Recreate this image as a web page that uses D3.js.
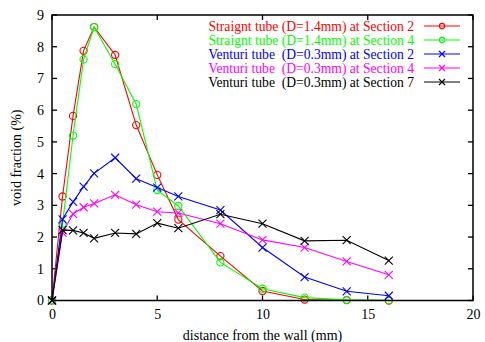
<!DOCTYPE html>
<html>
<head>
<meta charset="utf-8">
<script src="https://cdn.jsdelivr.net/npm/d3@7"></script>
<style>
  body { margin: 0; background: #fff; }
  text { font-family: "Liberation Serif", "Times New Roman", serif; }
</style>
</head>
<body>
<svg id="chart"></svg>
<script>
// distance from the wall (mm)
const distance = [0, 0.5, 1, 1.5, 2, 3, 4, 5, 6, 8, 10, 12, 14, 16];

const straight14Sec2 = [0, 3.28, 5.82, 7.87, 8.62, 7.74, 5.53, 3.96, 2.55, 1.4, 0.3, 0.03, 0.01, 0.0];
const straight14Sec4 = [0, 2.42, 5.2, 7.6, 8.62, 7.45, 6.19, 3.48, 2.98, 1.2, 0.37, 0.09, 0.02, 0.01];
const venturi03Sec2 = [0, 2.56, 3.11, 3.59, 4.01, 4.5, 3.84, 3.56, 3.28, 2.85, 1.67, 0.74, 0.29, 0.15];
const venturi03Sec4 = [0, 2.14, 2.73, 2.94, 3.06, 3.33, 3.02, 2.8, 2.76, 2.42, 1.91, 1.67, 1.23, 0.81];
const venturi03Sec7 = [0, 2.22, 2.21, 2.13, 1.96, 2.13, 2.1, 2.44, 2.28, 2.72, 2.42, 1.88, 1.9, 1.26];

const seriesNames = [
  "Straignt tube (D=1.4mm) at Section 2",
  "Straignt tube (D=1.4mm) at Section 4",
  "Venturi tube  (D=0.3mm) at Section 2",
  "Venturi tube  (D=0.3mm) at Section 4",
  "Venturi tube  (D=0.3mm) at Section 7"
];
const seriesColors = ["#ff0000", "#00ff00", "#0000ff", "#ff00ff", "#000000"];
const seriesMarkers = ["circle", "circle", "cross", "cross", "cross"];
const seriesValues = [straight14Sec2, straight14Sec4, venturi03Sec2, venturi03Sec4, venturi03Sec7];

const xTicks = [0, 5, 10, 15, 20];
const yTicks = [0, 1, 2, 3, 4, 5, 6, 7, 8, 9];

const width = 485, height = 342;
const margin = { top: 15, right: 12, bottom: 41.5, left: 52 };
const innerW = width - margin.left - margin.right;
const innerH = height - margin.top - margin.bottom;

const svg = d3.select("#chart").attr("width", width).attr("height", height);
const g = svg.append("g").attr("transform", `translate(${margin.left},${margin.top})`);

const x = d3.scaleLinear().domain([0, 20]).range([0, innerW]);
const y = d3.scaleLinear().domain([0, 9]).range([innerH, 0]);

// ticks (inward, mirrored on all four sides)
const tickLen = 5;
g.append("g").call(d3.axisBottom(x).tickValues(xTicks).tickSize(0).tickPadding(9))
  .attr("transform", `translate(0,${innerH})`)
  .call(a => a.select(".domain").remove())
  .selectAll("text").attr("font-size", 14).attr("fill", "#000");
g.append("g").call(d3.axisLeft(y).tickValues(yTicks).tickSize(0).tickPadding(8))
  .call(a => a.select(".domain").remove())
  .selectAll("text").attr("font-size", 14).attr("fill", "#000");

const tk = g.append("g").attr("stroke", "#000").attr("stroke-width", 1.3);
xTicks.forEach(v => {
  tk.append("line").attr("x1", x(v)).attr("x2", x(v)).attr("y1", innerH).attr("y2", innerH - tickLen);
  tk.append("line").attr("x1", x(v)).attr("x2", x(v)).attr("y1", 0).attr("y2", tickLen);
});
yTicks.forEach(v => {
  tk.append("line").attr("x1", 0).attr("x2", tickLen).attr("y1", y(v)).attr("y2", y(v));
  tk.append("line").attr("x1", innerW).attr("x2", innerW - tickLen).attr("y1", y(v)).attr("y2", y(v));
});

// series
const line = d3.line().x(d => x(d[0])).y(d => y(d[1]));

function drawMarker(sel, type, color, s) {
  if (type === "circle") {
    sel.append("circle").attr("r", s).attr("fill", "none").attr("stroke", color).attr("stroke-width", 1.1);
  } else {
    sel.append("path").attr("d", `M${-s},${-s}L${s},${s}M${-s},${s}L${s},${-s}`)
      .attr("stroke", color).attr("stroke-width", 1.1);
  }
}

seriesValues.forEach((vals, i) => {
  const pts = distance.map((d, j) => [d, vals[j]]);
  g.append("path").datum(pts).attr("d", line)
    .attr("fill", "none").attr("stroke", seriesColors[i]).attr("stroke-width", 1.1);
  g.append("g").selectAll("g").data(pts).join("g")
    .attr("transform", d => `translate(${x(d[0])},${y(d[1])})`)
    .each(function () { drawMarker(d3.select(this), seriesMarkers[i], seriesColors[i], seriesMarkers[i] === "circle" ? 3.6 : 4); });
});

// frame
g.append("rect").attr("width", innerW).attr("height", innerH)
  .attr("fill", "none").attr("stroke", "#000").attr("stroke-width", 1.5);

// legend
const legend = g.append("g");
seriesNames.forEach((name, i) => {
  const ly = 11 + i * 14;
  legend.append("text").attr("x", 362).attr("y", ly).attr("dy", "0.35em")
    .attr("text-anchor", "end").attr("font-size", 13.6).attr("fill", seriesColors[i])
    .attr("xml:space", "preserve").text(name);
  legend.append("line").attr("x1", 372).attr("x2", 408).attr("y1", ly).attr("y2", ly)
    .attr("stroke", seriesColors[i]).attr("stroke-width", 1.1);
  const m = legend.append("g").attr("transform", `translate(390,${ly})`);
  drawMarker(m, seriesMarkers[i], seriesColors[i], seriesMarkers[i] === "circle" ? 2.6 : 3);
});

// axis titles
svg.append("text").attr("x", margin.left + innerW / 2).attr("y", 340)
  .attr("text-anchor", "middle").attr("font-size", 14).text("distance from the wall (mm)");
svg.append("text").attr("transform", `translate(21,${margin.top + innerH / 2}) rotate(-90)`)
  .attr("text-anchor", "middle").attr("font-size", 14).text("void fraction (%)");
</script>
</body>
</html>
